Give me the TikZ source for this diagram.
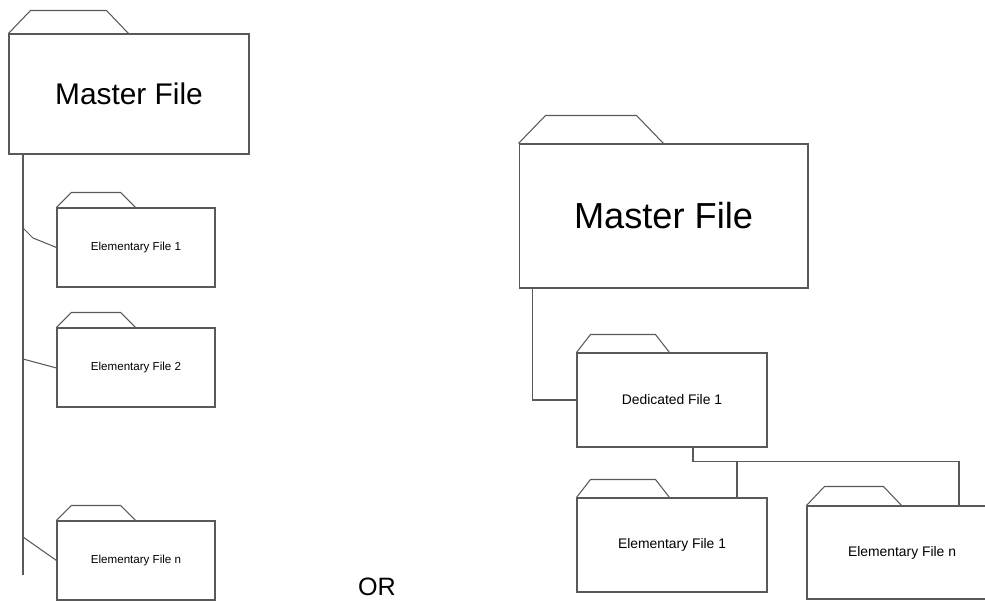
\documentclass[tikz,border=0pt]{standalone}
\usepackage{fontspec}
\setmainfont{Liberation Sans}
\usetikzlibrary{calc}

\begin{document}
\begin{tikzpicture}[x=0.02cm, y=0.02cm, line width=0.6pt,
  fold/.style={draw=black!65, fill=white, inner sep=0pt, align=center},
  link/.style={draw=black!65}]
\useasboundingbox (0,0) rectangle (985,-601);
\clip (0,0) rectangle (985,-601);
% left: master file with elementary files on a spine
\node[fold, minimum width=4.8cm, minimum height=2.4cm, font=\fontsize{17}{20}\selectfont] (mL) at (129,-94) {Master File};
\foreach \n/\y in {1/-247.5, 2/-367.5, n/-560.5}
  \node[fold, minimum width=3.16cm, minimum height=1.58cm, font=\fontsize{6.6}{8}\selectfont] (e\n) at (136,\y) {Elementary File \n};
% right: master file, dedicated file, elementary files
\node[fold, minimum width=5.78cm, minimum height=2.88cm, font=\fontsize{20.6}{24}\selectfont] (mR) at (663.5,-216) {Master File};
\node[fold, minimum width=3.8cm, minimum height=1.88cm, font=\fontsize{7.9}{9}\selectfont] (d1) at (672,-400) {Dedicated File 1};
\node[fold, minimum width=3.8cm, minimum height=1.88cm, font=\fontsize{7.9}{9}\selectfont] (r1) at (672,-545) {Elementary File 1};
\node[fold, minimum width=3.8cm, minimum height=1.86cm, font=\fontsize{7.9}{9}\selectfont] (rn) at (902,-552.5) {Elementary File n};
% folder tabs
\foreach \n/\a/\b/\h in {mL/22/76/23, e1/15/49/15, e2/15/49/15, en/15/49/15, mR/27/91/28, d1/14/65/18, r1/14/65/18, rn/18/59/19}
  \draw[link] (\n.north west) -- ++(\a,\h) -- ++(\b,0) -- ++(\a,-\h);
% spine
\coordinate (sp) at (23,-575);
\coordinate (j1) at (23,-228);
\coordinate (j2) at (23,-359);
\coordinate (jn) at (23,-537);
\draw[link] (mL.south -| sp) -- (sp);
\draw[link] (j1) -- ++(10,-10) -- (e1.west);
\draw[link] (j2) -- ($(e2.west)+(0,-0.5)$);
\draw[link] (jn) -- (en.west);
% tree
\coordinate (k) at (737,-462);
\draw[link] ($(mR.south west)+(14,0)$) |- (d1.west);
\draw[link] ($(d1.south)+(21,0)$) |- ($(rn.north)+(57,44)$) -- ($(rn.north)+(57,0)$);
\draw[link] (k) -- (k |- r1.north);
\node[font=\fontsize{14.3}{17}\selectfont, anchor=base] (or) at (377,-596) {OR};
\end{tikzpicture}
\end{document}
